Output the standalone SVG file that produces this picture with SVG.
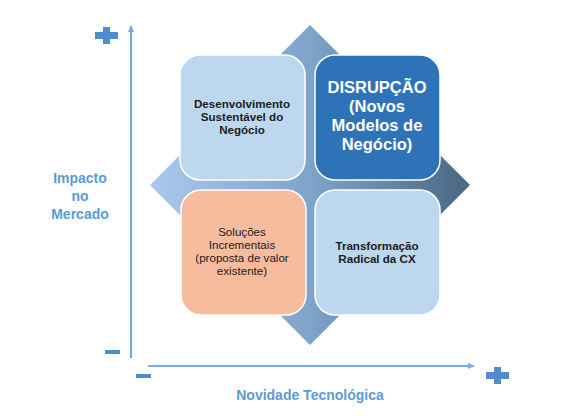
<svg xmlns="http://www.w3.org/2000/svg" width="569" height="419" viewBox="0 0 569 419">
<style>
.ax{stroke:#7aaade;stroke-width:2.2;fill:none}
.sym{fill:#4f8ccf}
.lbl{font-family:"Liberation Sans",Arial,sans-serif;font-weight:bold;font-size:14px;fill:#5b9bd5;text-anchor:middle}
.box{stroke:#ffffff;stroke-width:1.5}
.t{font-family:"Liberation Sans",Arial,sans-serif;font-size:11.6px;text-anchor:middle;fill:#1c1c1c}
.b{font-weight:bold}
.w{font-family:"Liberation Sans",Arial,sans-serif;font-size:16.5px;font-weight:bold;text-anchor:middle;fill:#ffffff}
</style>
<defs>
<linearGradient id="dg" x1="0" y1="0" x2="1" y2="0">
<stop offset="0" stop-color="#a9c8ec"/>
<stop offset="0.5" stop-color="#7fa3c9"/>
<stop offset="1" stop-color="#4a6784"/>
</linearGradient>
<marker id="ah" markerWidth="8" markerHeight="8" refX="6" refY="4" orient="auto" markerUnits="userSpaceOnUse">
<path d="M0,1 L7,4 L0,7 Z" fill="#7aaade"/>
</marker>
</defs>
<rect width="569" height="419" fill="#ffffff"/>
<g id="connectors">
<line class="ax" x1="131" y1="358" x2="131" y2="26" marker-end="url(#ah)"/>
<line class="ax" x1="148" y1="366" x2="474" y2="366" marker-end="url(#ah)"/>
</g>
<g id="axis-symbols">
<rect class="sym" x="95" y="32" width="23" height="7"/>
<rect class="sym" x="103" y="27" width="7" height="17"/>
<rect class="sym" x="105" y="350" width="15" height="4"/>
<rect class="sym" x="136" y="374" width="15" height="4"/>
<rect class="sym" x="486" y="372" width="23" height="7"/>
<rect class="sym" x="494" y="367" width="7" height="17"/>
</g>
<g id="labels">
<text class="lbl" x="80" y="183">Impacto</text>
<text class="lbl" x="80" y="201">no</text>
<text class="lbl" x="80" y="219">Mercado</text>
<text class="lbl" x="310" y="400">Novidade Tecnológica</text>
</g>
<g id="diamond">
<polygon points="310,25 470,185 310,345 150,185" fill="url(#dg)"/>
</g>
<g id="node-desenvolvimento">
<rect class="box" x="180" y="55" width="125" height="125" rx="20" fill="#bdd7ee"/>
<text class="t b" x="242" y="108">Desenvolvimento</text>
<text class="t b" x="242" y="121">Sustentável do</text>
<text class="t b" x="242" y="134">Negócio</text>
</g>
<g id="node-disrupcao">
<rect class="box" x="315" y="55" width="125" height="125" rx="20" fill="#2e73b8"/>
<text class="w" x="377" y="93">DISRUPÇÃO</text>
<text class="w" x="377" y="112">(Novos</text>
<text class="w" x="377" y="131">Modelos de</text>
<text class="w" x="377" y="150">Negócio)</text>
</g>
<g id="node-solucoes">
<rect class="box" x="181" y="190" width="125" height="125" rx="20" fill="#f7bb9e"/>
<text class="t" x="242" y="236">Soluções</text>
<text class="t" x="242" y="249">Incrementais</text>
<text class="t" x="242" y="262">(proposta de valor</text>
<text class="t" x="242" y="275">existente)</text>
</g>
<g id="node-transformacao">
<rect class="box" x="315" y="190" width="125" height="125" rx="20" fill="#bdd7ee"/>
<text class="t b" x="377" y="250">Transformação</text>
<text class="t b" x="377" y="263">Radical da CX</text>
</g>
</svg>
